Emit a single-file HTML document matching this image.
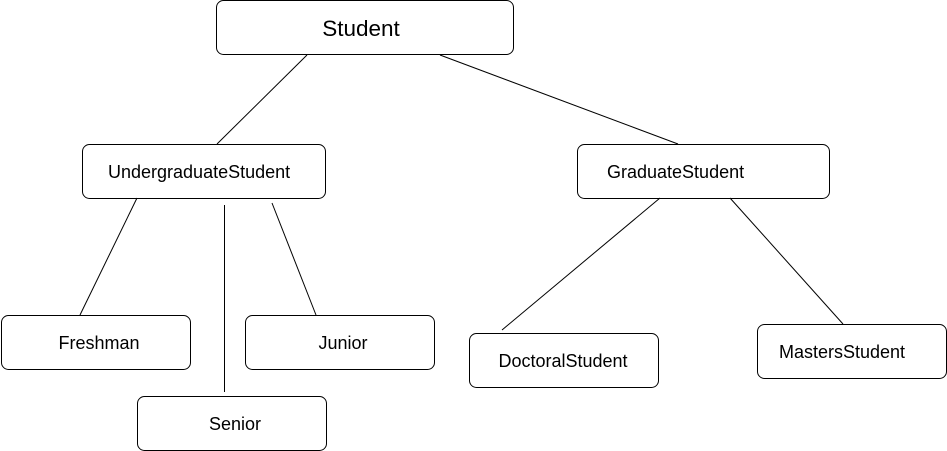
<!DOCTYPE html>
<html><head><meta charset="utf-8"><style>
html,body{margin:0;padding:0;background:#fff;width:947px;height:451px;overflow:hidden}
svg text{font-family:"Liberation Sans",sans-serif;fill:#000}
</style></head><body>
<svg width="947" height="451" viewBox="0 0 947 451" xmlns="http://www.w3.org/2000/svg">
<g fill="#fff" stroke="#000" stroke-width="1">
<rect x="216.5" y="0.5" width="297" height="54" rx="7"/>
<rect x="82.5" y="144.5" width="243" height="54" rx="7"/>
<rect x="577.5" y="144.5" width="252" height="54" rx="7"/>
<rect x="1.5" y="315.5" width="189" height="54" rx="7"/>
<rect x="245.5" y="315.5" width="189" height="54" rx="7"/>
<rect x="137.5" y="396.5" width="189" height="54" rx="7"/>
<rect x="469.5" y="333.5" width="189" height="54" rx="7"/>
<rect x="757.5" y="324.5" width="189" height="54" rx="7"/>
</g>
<g stroke="#000" stroke-width="1">
<line x1="307" y1="55" x2="217" y2="144"/>
<line x1="440" y1="55" x2="678" y2="144"/>
<line x1="137" y1="198" x2="80" y2="315"/>
<line x1="224.5" y1="205" x2="224.5" y2="392"/>
<line x1="272" y1="203" x2="316" y2="315"/>
<line x1="660" y1="198" x2="502" y2="330"/>
<line x1="730" y1="198" x2="843" y2="324"/>
</g>
<text x="361" y="36" font-size="22.5" text-anchor="middle">Student</text>
<text x="108" y="178" font-size="18">UndergraduateStudent</text>
<text x="607" y="178" font-size="18">GraduateStudent</text>
<text x="99" y="349" font-size="18" text-anchor="middle">Freshman</text>
<text x="343" y="349" font-size="18" text-anchor="middle">Junior</text>
<text x="235" y="430" font-size="18" text-anchor="middle">Senior</text>
<text x="563" y="367" font-size="18" text-anchor="middle">DoctoralStudent</text>
<text x="779" y="358" font-size="18">MastersStudent</text>
</svg>
</body></html>
